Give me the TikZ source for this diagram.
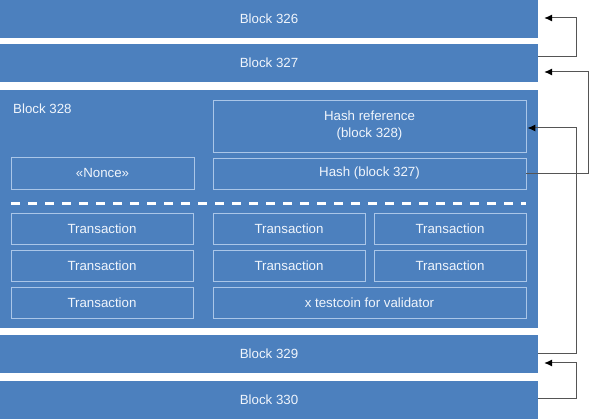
\documentclass[tikz,border=0pt]{standalone}
\usepackage{fontspec}
\setmainfont{Liberation Sans}
\usetikzlibrary{arrows.meta}
\definecolor{blkblue}{RGB}{76,128,190}
\definecolor{inline}{RGB}{170,198,232}
\definecolor{txt}{RGB}{240,245,252}
\definecolor{conn}{RGB}{85,85,85}
\tikzset{
  blk/.style={fill=blkblue, draw=none, minimum width=538pt, inner sep=0pt, text=txt, font=\fontsize{13.3}{15}\selectfont, text depth=0pt},
  inbox/.style={draw=inline, line width=0.9pt, fill=none, inner sep=0pt, text=txt, font=\fontsize{13.3}{17}\selectfont, align=center},
  link/.style={draw=conn, line width=1pt, -{Latex[length=8pt,width=7pt,fill=black,color=black]}},
}
\begin{document}
\begin{tikzpicture}[x=1pt,y=-1pt]
\useasboundingbox (0,0) rectangle (589,419);
\fill[white] (0,0) rectangle (589,419);
% outer blocks
\node[blk, minimum height=38pt] (b326) at (269,19) {Block 326};
\node[blk, minimum height=38pt] (b327) at (269,63) {Block 327};
\node[blk, minimum height=238pt] (b328) at (269,209) {};
\node[blk, minimum height=38pt] (b329) at (269,354) {Block 329};
\node[blk, minimum height=38pt] (b330) at (269,400) {Block 330};
\node[text=txt, font=\fontsize{13.3}{15}\selectfont, anchor=west, inner sep=0pt] (lbl328) at (13,109) {Block 328};
% header boxes
\node[inbox, minimum width=313pt, minimum height=52pt] (href) at (369.5,126) {Hash reference\\(block 328)};
\node[inbox, minimum width=313pt, minimum height=31pt] (h327) at (369.5,173.5) {Hash (block 327)};
\node[inbox, minimum width=183pt, minimum height=32pt] (nonce) at (102.5,173) {«Nonce»};
% dashed separator
\coordinate (dl) at (11,203.5);
\coordinate (dr) at (526,203.5);
\draw[white, line width=2.6pt, dash pattern=on 9pt off 8pt] (dl) -- (dr);
% transactions
\node[inbox, minimum width=182pt, minimum height=31pt] (t11) at (102,228.5) {Transaction};
\node[inbox, minimum width=152pt, minimum height=31pt] (t12) at (289,228.5) {Transaction};
\node[inbox, minimum width=152pt, minimum height=31pt] (t13) at (450,228.5) {Transaction};
\node[inbox, minimum width=182pt, minimum height=31pt] (t21) at (102,265.5) {Transaction};
\node[inbox, minimum width=152pt, minimum height=31pt] (t22) at (289,265.5) {Transaction};
\node[inbox, minimum width=152pt, minimum height=31pt] (t23) at (450,265.5) {Transaction};
\node[inbox, minimum width=182pt, minimum height=31pt] (t31) at (102,302.5) {Transaction};
\node[inbox, minimum width=313pt, minimum height=31pt] (tx) at (369.5,302.5) {x testcoin for validator};
% connectors
\draw[link] ([yshift=6pt]b327.east) -- ++(38,0) |- ([xshift=6pt,yshift=1pt]b326.east);
\draw[link] (h327.east) -- ++(62,0) |- ([xshift=6pt,yshift=-9pt]b327.east);
\draw[link] (b329.east) -- ++(38,0) |- ([xshift=1pt,yshift=-2pt]href.east);
\draw[link] ([yshift=1pt]b330.east) -- ++(38,0) |- ([xshift=6pt,yshift=-9pt]b329.east);
\end{tikzpicture}
\end{document}
